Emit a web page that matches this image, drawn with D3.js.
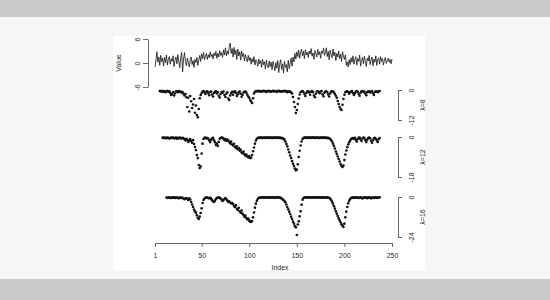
<!DOCTYPE html>
<html>
<head>
<meta charset="utf-8">
<script src="https://cdn.jsdelivr.net/npm/d3@7"></script>
<style>
  body { margin: 0; background: #f6f6f6; }
  text { font-family: "Liberation Sans", Arial, sans-serif; fill: #2a2a2a; }
</style>
</head>
<body>
<div id="vis"></div>
<script>
// series plot with three lambda panels underneath

const FRAME_WIDTH = 550;
const FRAME_HEIGHT = 300;

// x ticks of the shared index axis
const X_TICKS = [1, 50, 100, 150, 200, 250];

// top panel: the raw value series, index 1..250
const VALUE_TICKS = [-6, 0, 6];
const values = [
  -1.0, 0.8, 2.8, 0.2, 1.5, -0.6, 1.9, 0.3, 1.2, -0.8,
  1.4, 0.1, 2.0, -0.5, 0.9, 1.6, -0.3, 1.1, 0.4, 1.8,
  -0.9, 0.7, 1.5, -0.2, 2.1, 0.5, -1.2, 1.3, 2.7, -2.2,
  1.0, 2.6, 0.3, -0.7, 1.2, 0.2, -1.0, 0.8, 1.5, -0.4,
  0.6, -1.1, 0.9, 0.1, 1.4, -0.6, 0.7, 1.9, 0.4, 2.3,
  1.1, 2.6, 0.8, 1.7, 2.4, 0.9, 2.1, 1.3, 2.8, 1.6,
  2.2, 1.0, 2.5, 1.8, 2.9, 1.2, 2.4, 1.5, 3.1, 1.9,
  2.6, 1.4, 3.3, 2.0, 3.8, 1.8, 3.0, 2.2, 4.1, 5.0,
  2.4, 3.6, 1.5, 3.9, 2.1, 3.2, 0.9, 3.5, 1.8, 2.8,
  0.7, 3.0, 1.6, 2.4, 0.5, 2.1, 1.2, 0.3, 1.9, 0.6,
  1.4, -0.3, 1.1, 0.2, 1.6, -0.5, 0.8, 0.4, -0.8, 1.0,
  -0.2, 0.6, -1.1, 0.9, -0.4, 0.3, -1.5, 0.7, -0.6, -1.2,
  0.5, -0.9, 0.2, -1.7, 0.4, -0.7, -1.9, 0.1, -1.3, 0.6,
  -2.4, -0.3, 0.8, -1.6, -0.2, -2.5, 0.4, -1.1, -0.4, -2.2,
  0.7, -1.4, -0.1, 1.2, -0.8, 1.5, 0.3, 2.4, 1.0, 2.8,
  1.6, 3.2, 1.2, 2.6, 3.5, 1.8, 2.9, 1.1, 3.3, 2.0,
  2.7, 1.4, 3.0, 2.2, 3.6, 1.7, 2.5, 0.9, 3.1, 2.3,
  1.5, 3.4, 2.0, 2.8, 1.2, 3.0, 2.4, 3.7, 1.9, 2.6,
  3.8, 1.6, 2.9, 0.8, 3.2, 2.1, 1.3, 3.5, 1.8, 2.7,
  0.6, 2.4, 1.5, 3.0, 1.1, 2.2, 0.4, 2.8, 1.7, 0.9,
  2.0, -0.6, 0.3, -1.0, 0.8, -0.4, 1.3, 0.2, 1.8, -0.3,
  0.9, 1.6, -0.5, 1.1, 0.4, 2.0, -0.8, 0.6, 1.4, -0.2,
  1.7, 0.3, -0.9, 1.2, 0.5, 1.9, -0.4, 0.8, 1.5, -0.7,
  1.0, 0.2, 1.8, -0.6, 0.9, 1.3, -0.3, 1.6, 0.4, 1.1,
  -0.5, 0.7, 1.4, -0.1, 0.6, 1.2, 0.2, 0.9, -0.2, 1.0
];

// lambda = 8, first point at index 6
const LAM8_START = 6;
const LAM8_TICKS = [-12, 0];
const lam8 = [
  -0.4, -0.6, -0.3, -0.8, -0.5, -0.4, -0.9, -0.6, -0.3, -0.7,
  -0.5, -1.2, -2.0, -1.6, -0.8, -2.2, -1.4, -0.6, -0.5, -0.9,
  -0.4, -0.7, -0.6, -1.1, -0.8, -1.5, -2.2, -1.6, -2.9, -6.8,
  -3.1, -8.6, -2.4, -4.5, -7.2, -5.8, -3.6, -9.1, -6.2, -10.0,
  -10.9, -7.6, -3.3, -2.0, -1.2, -0.6, -0.4, -0.9, -1.6, -0.7,
  -0.5, -1.3, -2.1, -0.8, -0.6, -1.8, -2.6, -1.2, -0.7, -0.5,
  -1.4, -0.9, -2.3, -3.0, -1.6, -0.8, -1.1, -0.6, -2.0, -2.8,
  -1.5, -0.9, -3.4, -4.0, -2.2, -1.3, -0.7, -1.9, -0.8, -0.5,
  -1.2, -2.4, -1.7, -0.9, -0.6, -1.5, -2.7, -1.9, -1.0, -0.7,
  -0.6, -1.1, -1.9, -2.6, -3.1, -4.0, -4.6, -5.2, -3.3, -1.4,
  -0.7, -0.5, -0.4, -0.6, -0.3, -0.5, -0.7, -0.4, -0.6, -0.3,
  -0.5, -0.4, -0.8, -0.5, -0.3, -0.6, -0.4, -0.7, -0.5, -0.3,
  -0.6, -0.4, -0.5, -0.8, -0.4, -0.3, -0.6, -0.5, -0.7, -0.4,
  -0.5, -0.3, -0.6, -0.4, -0.9, -0.5, -0.7, -0.6, -1.0, -1.4,
  -2.8, -4.8, -6.8, -9.2, -8.0, -5.6, -3.4, -1.8, -0.9, -0.6,
  -0.4, -0.8, -1.6, -2.4, -1.2, -0.6, -0.5, -1.0, -1.9, -0.7,
  -0.4, -0.9, -2.2, -2.9, -1.5, -0.6, -0.5, -0.8, -1.3, -0.6,
  -0.4, -1.7, -2.5, -1.1, -0.6, -0.5, -0.9, -1.8, -2.6, -1.4,
  -0.7, -0.5, -0.6, -1.0, -1.6, -2.3, -3.1, -4.4, -5.6, -6.8,
  -7.6, -8.0, -5.9, -3.6, -1.9, -0.9, -0.6, -0.5, -0.8, -1.5,
  -0.9, -0.6, -0.4, -1.2, -2.0, -1.3, -0.6, -0.5, -0.7, -1.6,
  -2.3, -1.1, -0.5, -0.4, -0.8, -0.6, -1.4, -2.1, -0.9, -0.5,
  -0.6, -1.0, -0.7, -0.4, -1.3, -2.0, -0.8, -0.5, -0.6, -0.9,
  -0.5, -0.4
];

// lambda = 12, first point at index 9
const LAM12_START = 9;
const LAM12_TICKS = [-18, 0];
const lam12 = [
  -0.3, -0.5, -0.2, -0.4, -0.6, -0.3, -0.4, -0.7, -0.5, -0.3,
  -0.4, -0.2, -0.6, -0.5, -0.3, -0.8, -0.4, -0.6, -0.3, -0.5,
  -0.7, -0.4, -0.6, -1.0, -1.6, -0.8, -1.3, -2.2, -1.5, -0.9,
  -1.8, -2.6, -1.4, -3.2, -4.5, -5.9, -8.1, -9.5, -12.6, -14.0,
  -13.2, -7.4, -3.0, -0.9, -0.4, -0.3, -0.6, -0.5, -0.8, -1.6,
  -2.3, -1.2, -0.6, -0.4, -1.5, -2.4, -3.6, -3.0, -4.0, -2.2,
  -0.8, -0.5, -0.3, -0.4, -0.7, -1.4, -0.9, -1.8, -1.2, -1.6,
  -2.3, -2.9, -2.1, -3.4, -3.8, -3.1, -4.4, -4.9, -4.2, -5.5,
  -5.0, -6.2, -5.7, -6.9, -7.3, -6.6, -7.8, -8.4, -7.9, -8.8,
  -9.2, -8.6, -9.5, -9.3, -8.1, -6.4, -4.7, -3.0, -1.6, -0.8,
  -0.5, -0.3, -0.4, -0.2, -0.3, -0.5, -0.3, -0.2, -0.4, -0.3,
  -0.2, -0.3, -0.4, -0.2, -0.3, -0.5, -0.3, -0.2, -0.3, -0.4,
  -0.2, -0.3, -0.4, -0.3, -0.5, -0.4, -0.6, -0.8, -1.2, -2.0,
  -3.1, -4.2, -5.6, -6.9, -8.3, -9.5, -10.8, -12.0, -13.1, -14.2,
  -15.0, -14.6, -12.3, -9.0, -6.2, -3.8, -2.0, -0.9, -0.5, -0.3,
  -0.2, -0.3, -0.4, -0.2, -0.3, -0.2, -0.4, -0.3, -0.2, -0.3,
  -0.4, -0.3, -0.2, -0.3, -0.5, -0.3, -0.2, -0.4, -0.3, -0.2,
  -0.3, -0.4, -0.3, -0.5, -0.4, -0.6, -0.9, -1.4, -2.0, -3.0,
  -4.0, -5.2, -6.5, -7.6, -8.8, -9.9, -11.0, -12.2, -13.0, -13.5,
  -12.8, -10.4, -7.9, -6.1, -4.6, -3.4, -2.4, -1.6, -1.0, -0.6,
  -0.5, -0.8, -0.4, -1.3, -2.0, -0.9, -0.4, -0.3, -1.1, -1.8,
  -0.7, -0.3, -0.5, -1.4, -2.3, -1.2, -0.5, -0.3, -0.6, -1.7,
  -2.6, -1.5, -0.6, -0.4, -0.8, -1.6, -2.2, -1.0, -0.5
];

// lambda = 16, first point at index 13
const LAM16_START = 13;
const LAM16_TICKS = [-24, 0];
const lam16 = [
  -0.3, -0.5, -0.2, -0.4, -0.6, -0.3, -0.5, -0.4, -0.2, -0.6,
  -0.4, -0.3, -0.5, -0.8, -0.4, -0.3, -0.6, -0.5, -0.9, -1.3,
  -0.9, -0.6, -1.2, -1.8, -0.8, -1.5, -3.0, -4.5, -6.0, -7.5,
  -8.6, -9.5, -11.0, -12.5, -13.2, -11.8, -9.6, -6.8, -3.6, -1.8,
  -0.9, -0.5, -0.3, -0.4, -0.6, -0.8, -0.5, -1.0, -1.9, -2.6,
  -3.0, -2.2, -1.2, -0.6, -0.4, -0.3, -0.5, -0.9, -1.6, -2.4,
  -1.8, -1.1, -0.6, -1.4, -2.2, -3.0, -2.6, -3.3, -3.9, -3.6,
  -4.2, -5.4, -6.0, -4.9, -7.1, -7.8, -6.5, -8.6, -9.4, -8.1,
  -10.0, -10.8, -11.9, -11.2, -12.6, -13.4, -13.0, -14.2, -14.8, -15.0,
  -14.4, -12.2, -9.3, -6.4, -4.0, -2.3, -1.2, -0.6, -0.4, -0.3,
  -0.2, -0.3, -0.2, -0.4, -0.3, -0.2, -0.3, -0.2, -0.4, -0.3,
  -0.2, -0.3, -0.2, -0.3, -0.4, -0.2, -0.3, -0.2, -0.3, -0.4,
  -0.5, -0.9, -1.4, -1.8, -2.4, -3.2, -4.5, -6.0, -7.4, -8.8,
  -10.2, -11.8, -13.2, -14.8, -16.0, -17.5, -18.2, -22.8, -16.5, -14.6,
  -11.6, -8.6, -4.6, -1.6, -0.6, -0.3, -0.2, -0.3, -0.2, -0.3,
  -0.2, -0.4, -0.3, -0.2, -0.3, -0.2, -0.4, -0.3, -0.2, -0.3,
  -0.2, -0.3, -0.4, -0.2, -0.3, -0.2, -0.3, -0.4, -0.3, -0.2,
  -0.4, -0.6, -1.0, -1.8, -2.8, -4.0, -5.5, -7.0, -8.6, -10.0,
  -11.4, -12.8, -14.0, -15.2, -16.4, -17.2, -18.0, -16.0, -12.2, -8.8,
  -6.0, -3.8, -2.2, -1.2, -0.6, -0.4, -0.3, -0.5, -0.4, -0.3,
  -0.2, -0.4, -0.6, -0.3, -0.2, -0.5, -0.9, -0.4, -0.3, -0.2,
  -0.4, -0.7, -0.3, -0.2, -0.5, -0.8, -0.4, -0.3, -0.6, -0.3,
  -0.2, -0.4, -0.5, -0.3, -0.2
];

// panel setup: data, ticks, label and where each sits vertically
const PANELS = [
  {data: lam8,  start: LAM8_START,  ticks: LAM8_TICKS,  label: "λ=8",  top: 90,  bottom: 120},
  {data: lam12, start: LAM12_START, ticks: LAM12_TICKS, label: "λ=12", top: 137, bottom: 177},
  {data: lam16, start: LAM16_START, ticks: LAM16_TICKS, label: "λ=16", top: 197, bottom: 237}
];

const AXIS_COLOR = "#6a6a6a";
const TEXT_COLOR = "#2a2a2a";
const FONT_SIZE = "7px";

const FRAME = d3.select("#vis")
                .append("svg")
                  .attr("width", FRAME_WIDTH)
                  .attr("height", FRAME_HEIGHT);

// page background bands + white plot image
FRAME.append("rect")
      .attr("x", 0).attr("y", 0)
      .attr("width", FRAME_WIDTH).attr("height", FRAME_HEIGHT)
      .attr("fill", "#f6f6f6");
FRAME.append("rect")
      .attr("x", 0).attr("y", 0)
      .attr("width", FRAME_WIDTH).attr("height", 17)
      .attr("fill", "#cbcbcb");
FRAME.append("rect")
      .attr("x", 0).attr("y", 279)
      .attr("width", FRAME_WIDTH).attr("height", 21)
      .attr("fill", "#cbcbcb");
FRAME.append("rect")
      .attr("x", 113).attr("y", 36)
      .attr("width", 312).attr("height", 234)
      .attr("fill", "#ffffff");

// shared x scale
const X_SCALE = d3.scaleLinear()
                  .domain([1, 250])
                  .range([155, 392]);

// replaces d3's tick text with text turned like R's las=0 labels
function rotateLabels(g, offset) {
  g.selectAll(".tick text").remove();
  g.selectAll(".tick")
    .append("text")
      .attr("transform", "translate(" + offset + ",0) rotate(-90)")
      .attr("text-anchor", "middle")
      .attr("dy", "0.35em")
      .attr("font-size", FONT_SIZE)
      .attr("fill", TEXT_COLOR)
      .text((d) => { return String(d); });
}

function styleAxis(g) {
  g.selectAll("path, line").attr("stroke", AXIS_COLOR);
}

// ---- top panel: value line ----
const Y_VALUE = d3.scaleLinear()
                  .domain([-6, 6])
                  .range([87, 39]);

const line = d3.line()
               .x((d, i) => { return X_SCALE(i + 1); })
               .y((d) => { return Y_VALUE(d); });

FRAME.append("path")
      .datum(values)
      .attr("d", line)
      .attr("fill", "none")
      .attr("stroke", "#111")
      .attr("stroke-width", 0.8);

const leftAxis = FRAME.append("g")
      .attr("transform", "translate(148,0)")
      .call(d3.axisLeft(Y_VALUE).tickValues(VALUE_TICKS).tickSize(5).tickSizeOuter(0));
styleAxis(leftAxis);
rotateLabels(leftAxis, -10);

FRAME.append("text")
      .attr("transform", "translate(119," + Y_VALUE(0) + ") rotate(-90)")
      .attr("text-anchor", "middle")
      .attr("dy", "0.35em")
      .attr("font-size", FONT_SIZE)
      .attr("fill", TEXT_COLOR)
      .text("Value");

// ---- lambda panels: points ----
PANELS.forEach((p) => {
  const Y = d3.scaleLinear()
              .domain([p.ticks[0], p.ticks[1]])
              .range([p.bottom, p.top]);

  FRAME.append("g")
    .selectAll("circle")
    .data(p.data)
    .enter()
    .append("circle")
      .attr("cx", (d, i) => { return X_SCALE(p.start + i); })
      .attr("cy", (d) => { return Y(d); })
      .attr("r", 1.3)
      .attr("fill", "#111");

  const ax = FRAME.append("g")
        .attr("transform", "translate(398,0)")
        .call(d3.axisRight(Y).tickValues(p.ticks).tickSize(4).tickSizeOuter(0));
  styleAxis(ax);
  rotateLabels(ax, 14);

  FRAME.append("text")
        .attr("transform", "translate(423," + ((p.top + p.bottom) / 2) + ") rotate(-90)")
        .attr("text-anchor", "middle")
        .attr("dy", "0.35em")
        .attr("font-size", FONT_SIZE)
        .attr("fill", TEXT_COLOR)
        .text(p.label);
});

// ---- bottom x axis ----
const xAxis = FRAME.append("g")
      .attr("transform", "translate(0,243)")
      .call(d3.axisBottom(X_SCALE).tickValues(X_TICKS).tickSize(4).tickSizeOuter(0)
              .tickFormat((d) => { return String(d); }));
styleAxis(xAxis);
xAxis.selectAll(".tick text")
      .attr("font-size", FONT_SIZE)
      .attr("fill", TEXT_COLOR)
      .attr("font-family", "Liberation Sans, Arial, sans-serif")
      .attr("dy", "1.1em");

FRAME.append("text")
      .attr("x", 280)
      .attr("y", 270)
      .attr("text-anchor", "middle")
      .attr("font-size", FONT_SIZE)
      .attr("fill", TEXT_COLOR)
      .text("Index");
</script>
</body>
</html>
